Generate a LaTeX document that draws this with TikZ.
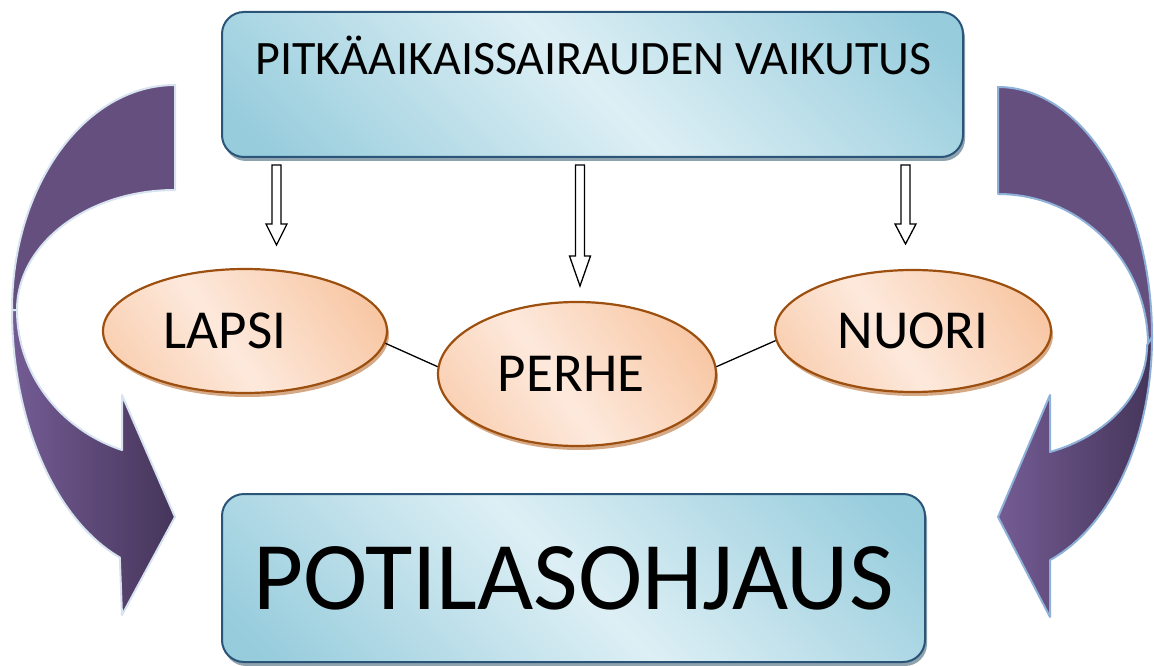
\documentclass[tikz,border=0pt]{standalone}
\usepackage{fontspec}
\setmainfont{Carlito}
\usetikzlibrary{shapes.geometric,shadows}
\definecolor{boxdark}{HTML}{96CCDC}
\definecolor{boxlight}{HTML}{DDEFF5}
\definecolor{boxborder}{HTML}{2A5478}
\definecolor{boxshadow}{HTML}{8FA3AE}
\definecolor{peachdark}{HTML}{F7C29C}
\definecolor{peachlight}{HTML}{FDE9DC}
\definecolor{ellborder}{HTML}{9C4F0E}
\definecolor{ellshadow}{HTML}{D6A986}
\definecolor{purpleback}{HTML}{654F7F}
\definecolor{purplelight}{HTML}{745C94}
\definecolor{purpledark}{HTML}{45355A}
\definecolor{rimleft}{HTML}{D8E3F0}
\definecolor{rimright}{HTML}{8DB1D8}
\pgfdeclarehorizontalshading{bluegrad}{100bp}{color(0bp)=(boxdark); color(18bp)=(boxdark); color(50bp)=(boxlight); color(82bp)=(boxdark); color(100bp)=(boxdark)}
\pgfdeclarehorizontalshading{peachgrad}{100bp}{color(0bp)=(peachdark!70!peachlight); color(20bp)=(peachdark!70!peachlight); color(45bp)=(peachlight); color(82bp)=(peachdark); color(100bp)=(peachdark)}
\pgfdeclarehorizontalshading{purplegrad}{100bp}{color(0bp)=(purplelight); color(25bp)=(purplelight); color(75bp)=(purpledark); color(100bp)=(purpledark)}
\tikzset{
  bluebox/.style={rectangle, rounded corners=22pt, draw=boxborder, line width=2pt,
    shading=bluegrad, shading angle=45, inner sep=0pt,
    drop shadow={shadow xshift=2pt, shadow yshift=-4pt, fill=boxshadow, opacity=1}},
  peachell/.style={ellipse, draw=ellborder, line width=2.2pt, shading=peachgrad,
    shading angle=35, inner sep=0pt, font=\fontsize{55}{60}\selectfont,
    drop shadow={shadow xshift=2pt, shadow yshift=-4pt, fill=ellshadow, opacity=1}},
  hollowarrow/.style={draw=black, line width=1.3pt, fill=white, line join=miter},
  backband/.style={fill=purpleback, line width=2pt, line join=round},
  frontband/.style={shading=purplegrad, shading angle=0, line width=2pt, line join=round},
  link/.style={draw=black, line width=1.3pt}
}
\begin{document}
\begin{tikzpicture}[x=1pt, y=1pt]
\useasboundingbox (0,0) rectangle (1154,-666);

% left curved arrow
\path[backband, draw=rimleft] (175,-85) arc[start angle=90, end angle=180, x radius=163pt, y radius=225pt]
  -- (17,-310) arc[start angle=180, end angle=90, x radius=158pt, y radius=120pt] -- cycle;
\path[frontband, draw=rimleft] (12,-310) arc[start angle=180, end angle=250.2, x radius=163pt, y radius=263pt]
  -- (122,-615) -- (175,-517) -- (122,-395) -- (122,-450)
  arc[start angle=250.4, end angle=180, x radius=158pt, y radius=148.6pt] -- cycle;

% right curved arrow
\path[backband, draw=rimright] (998,-87) arc[start angle=90, end angle=0, x radius=154pt, y radius=250pt]
  -- (1148,-345) arc[start angle=0, end angle=90, x radius=150pt, y radius=151pt] -- cycle;
\path[frontband, draw=rimright] (1152,-337) arc[start angle=0, end angle=-70.2, x radius=154pt, y radius=237pt]
  -- (1050,-617) -- (998,-517) -- (1050,-395) -- (1050,-452)
  arc[start angle=-69.6, end angle=0, x radius=149pt, y radius=114pt] -- cycle;

% boxes
\node[bluebox, minimum width=741pt, minimum height=145pt] (top) at (592.5,-84.5) {};
\node[anchor=base, font=\fontsize{48}{54}\selectfont] (toptext) at (593.5,-75) {PITKÄAIKAISSAIRAUDEN VAIKUTUS};
\node[bluebox, minimum width=703pt, minimum height=168pt, font=\fontsize{97}{108}\selectfont] (bottom) at (573.5,-578) {POTILASOHJAUS};

% hollow down arrows
\foreach \cx/\h/\p in {276.5/224/245, 580/256/286, 905.5/224/244}{
  \path[hollowarrow] (\cx-4.5,-165) -- (\cx+4.5,-165) -- (\cx+4.5,-\h) -- (\cx+10.5,-\h)
    -- (\cx,-\p) -- (\cx-10.5,-\h) -- (\cx-4.5,-\h) -- cycle;
}

% ellipses
\node[peachell, minimum width=284pt, minimum height=124pt] (lapsi) at (245,-331) {LAPSI\hspace*{40pt}};
\node[peachell, minimum width=278pt, minimum height=144pt] (perhe) at (577,-374) {PERHE\hspace*{12pt}};
\node[peachell, minimum width=276pt, minimum height=122pt] (nuori) at (913,-331) {NUORI};

\draw[link] (lapsi.-5) -- (perhe.177);
\draw[link] (perhe.3) -- (nuori.184);
\end{tikzpicture}
\end{document}
